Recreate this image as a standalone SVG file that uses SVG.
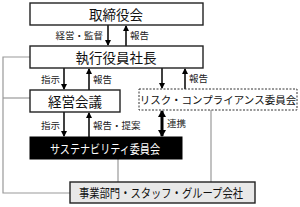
<svg xmlns="http://www.w3.org/2000/svg" width="300" height="207" viewBox="0 0 300 207">
<defs>
<style>
.box{fill:#fff;stroke:#222;stroke-width:1.4}
.t{font-family:"Noto Sans CJK JP","Noto Sans",sans-serif;text-anchor:middle;dominant-baseline:central;fill:#111}
.lb{font-family:"Noto Sans CJK JP","Noto Sans",sans-serif;font-size:9.5px;dominant-baseline:central;fill:#222}
.ar{stroke:#000;stroke-width:1.5;fill:none}
.gl{stroke:#999;stroke-width:1.2;fill:none}
</style>
<marker id="ah" markerWidth="6" markerHeight="6" refX="5" refY="3" orient="auto" markerUnits="userSpaceOnUse">
<path d="M0,0 L6,3 L0,6 Z" fill="#000"/>
</marker>
<marker id="ah2" markerWidth="8" markerHeight="8" refX="6" refY="4" orient="auto-start-reverse" markerUnits="userSpaceOnUse">
<path d="M0,0 L7,4 L0,8 Z" fill="#000"/>
</marker>
</defs>
<g id="connectors">
<path class="gl" d="M30,57 H3 V193 H70"/>
<path class="gl" d="M30,98 H3"/>
<path class="gl" d="M118,159 V182"/>
<path class="gl" d="M211,110 V182"/>
<line class="ar" x1="108" y1="25" x2="108" y2="45" marker-end="url(#ah)"/>
<line class="ar" x1="126" y1="46" x2="126" y2="26" marker-end="url(#ah)"/>
<line class="ar" x1="64" y1="68" x2="64" y2="89" marker-end="url(#ah)"/>
<line class="ar" x1="89" y1="90" x2="89" y2="69" marker-end="url(#ah)"/>
<line class="ar" x1="162" y1="68" x2="162" y2="88" marker-end="url(#ah)"/>
<line class="ar" x1="185" y1="89" x2="185" y2="69" marker-end="url(#ah)"/>
<line class="ar" x1="64" y1="112" x2="64" y2="136" marker-end="url(#ah)"/>
<line class="ar" x1="89" y1="137" x2="89" y2="113" marker-end="url(#ah)"/>
<line stroke="#000" stroke-width="3" x1="162" y1="111" x2="162" y2="136" marker-start="url(#ah2)" marker-end="url(#ah2)"/>
<text class="lb" x="103" y="35" text-anchor="end">経営・監督</text>
<text class="lb" x="130" y="35">報告</text>
<text class="lb" x="60" y="79" text-anchor="end">指示</text>
<text class="lb" x="93" y="79">報告</text>
<text class="lb" x="189" y="78">報告</text>
<text class="lb" x="60" y="125" text-anchor="end">指示</text>
<text class="lb" x="93" y="125">報告・提案</text>
<text class="lb" x="167" y="123">連携</text>
</g>
<g id="n1"><rect class="box" x="30" y="3" width="173" height="22"/><text class="t" x="116" y="14" font-size="13.5">取締役会</text></g>
<g id="n2"><rect class="box" x="30" y="46" width="173" height="22"/><text class="t" x="116" y="57" font-size="13.5">執行役員社長</text></g>
<g id="n3"><rect class="box" x="30" y="90" width="90" height="22"/><text class="t" x="75" y="101" font-size="13.5">経営会議</text></g>
<g id="n4"><rect x="139" y="89" width="158" height="21" fill="#fff" stroke="#333" stroke-width="1" stroke-dasharray="2,1.5"/><text class="t" x="218" y="99.5" font-size="10.5">リスク・コンプライアンス委員会</text></g>
<g id="n5"><rect x="30" y="137" width="152" height="22" fill="#000" stroke="#000"/><text class="t" x="105" y="148" font-size="12.5" style="fill:#fff" textLength="110" lengthAdjust="spacingAndGlyphs">サステナビリティ委員会</text></g>
<g id="n6"><rect x="70" y="182" width="185" height="21" fill="#e8e8e8" stroke="#222" stroke-width="1.4"/><text class="t" x="161" y="192.5" font-size="12.5" textLength="164" lengthAdjust="spacingAndGlyphs">事業部門・スタッフ・グループ会社</text></g>
</svg>
